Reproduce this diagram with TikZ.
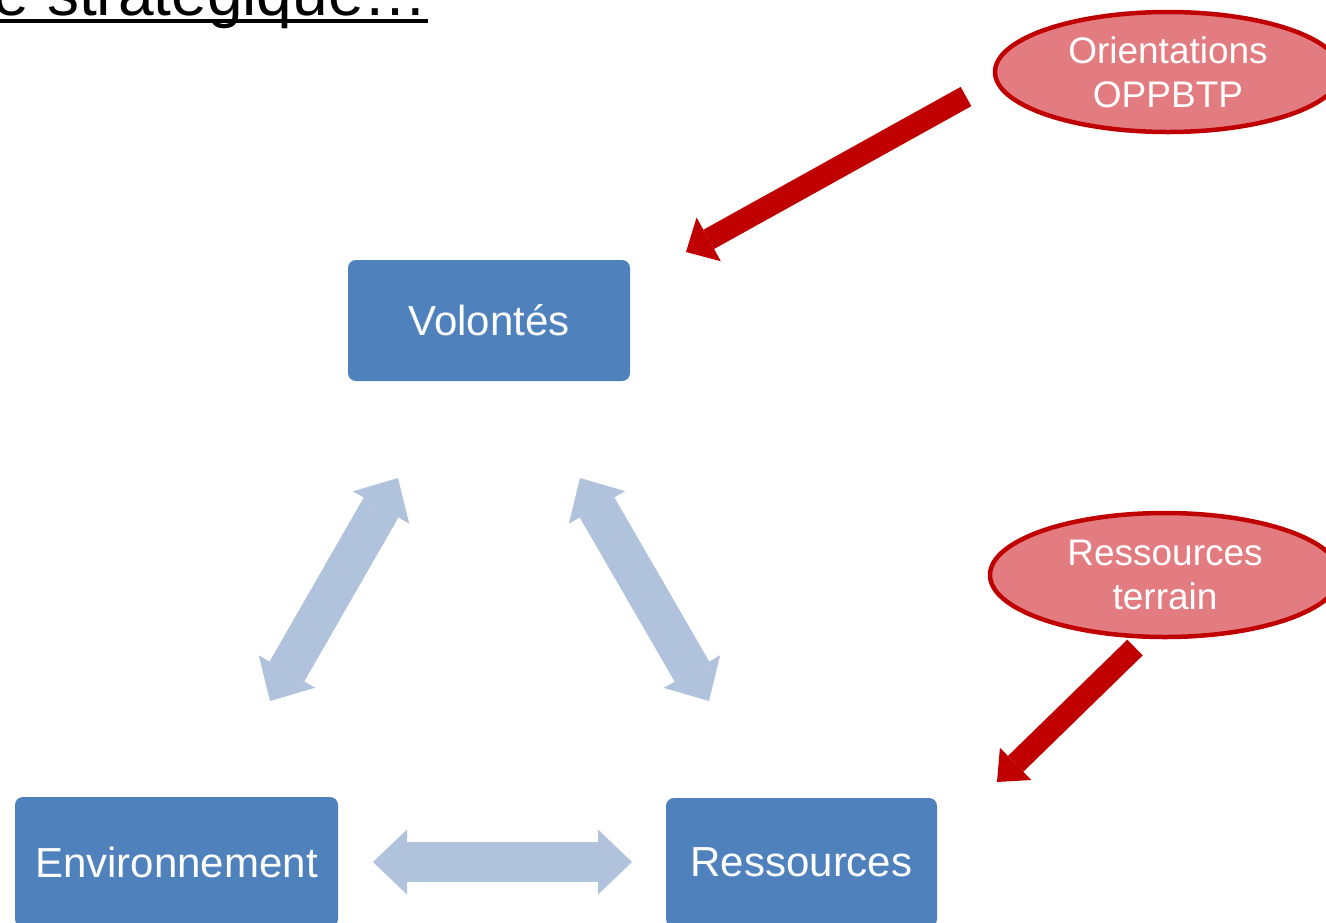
\documentclass[tikz,border=0pt]{standalone}
\usepackage{fontspec}
\setmainfont{Liberation Sans}
\usetikzlibrary{arrows.meta,shapes.geometric}
\definecolor{boxblue}{RGB}{79,129,189}
\definecolor{lightarrow}{RGB}{177,194,221}
\definecolor{darkred}{RGB}{192,0,0}
\definecolor{pinkfill}{RGB}{226,124,128}
\tikzset{
  box/.style={fill=boxblue, rounded corners=8pt, text=white, inner sep=0pt,
    font=\fontsize{42}{50}\selectfont},
  oval/.style={ellipse, draw=darkred, line width=4.5pt, fill=pinkfill, text=white,
    inner sep=0pt, align=center, font=\fontsize{37}{44}\selectfont},
  redarrow/.style={draw=darkred, line width=22pt},
  bluearrow/.style={draw=lightarrow, line width=40pt,
    {Triangle[width=65pt,length=34pt,line width=0pt]}-{Triangle[width=65pt,length=34pt,line width=0pt]}}
}
\begin{document}
\begin{tikzpicture}[x=1pt,y=-1pt]
\useasboundingbox (0,0) rectangle (1326,922);
\clip (0,0) rectangle (1326,922);
\fill[white] (0,0) rectangle (1326,922);

% title (cut off)
\node[anchor=base east, inner sep=0pt, font=\fontsize{64}{72}\selectfont] (title) at (428,15) {e stratégique…};
\draw[line width=4pt] ([yshift=-6pt]title.base west) -- ([yshift=-6pt]title.base east);

% boxes
\node[box, minimum width=282pt, minimum height=121pt] (vol) at (489,320.5) {Volontés};
\node[box, minimum width=323pt, minimum height=130pt] (env) at (176.5,862) {Environnement};
\node[box, minimum width=271pt, minimum height=129pt] (res) at (801.5,862.5) {Ressources};

% ovals
\node[oval, minimum width=346pt, minimum height=120pt] (orient) at (1168,72) {Orientations\\OPPBTP};
\node[oval, minimum width=350pt, minimum height=124pt] (terr) at (1165,575) {Ressources\\terrain};

% red arrows
\coordinate (r1s) at (966,96.5);
\coordinate (r1e) at (686,252);
\coordinate (r2s) at (1135,647.5);
\coordinate (r2e) at (997,782);
\draw[redarrow, -{Triangle[width=50pt,length=26pt,line width=0pt]}] (r1s) -- (r1e);
\draw[redarrow, -{Triangle[width=45pt,length=26pt,line width=0pt]}] (r2s) -- (r2e);

% light blue double arrows
\coordinate (bl1) at (270,701);
\coordinate (bl2) at (398,478);
\coordinate (br1) at (580,478);
\coordinate (br2) at (709,701);
\coordinate (bh1) at (373,862);
\coordinate (bh2) at (632,862);
\draw[bluearrow] (bl1) -- (bl2);
\draw[bluearrow] (br1) -- (br2);
\draw[bluearrow] (bh1) -- (bh2);
\end{tikzpicture}
\end{document}
